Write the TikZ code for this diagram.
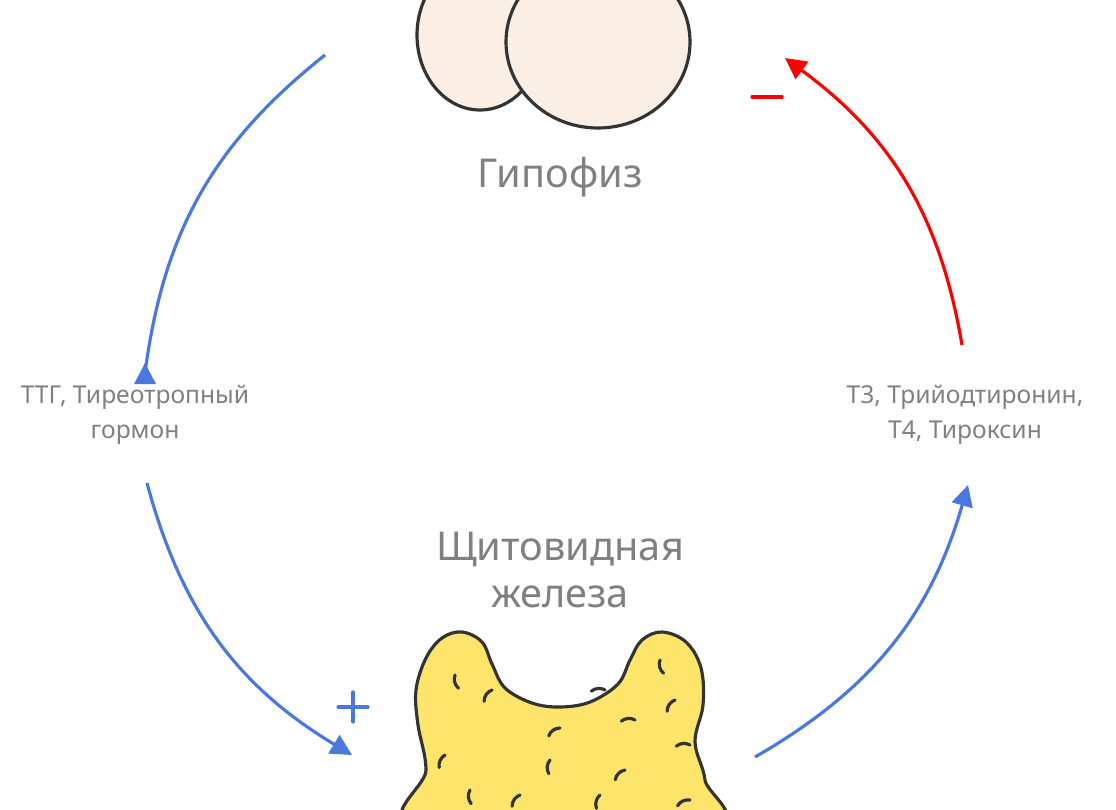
\documentclass[tikz,border=0pt]{standalone}
\usepackage{fontspec}
\setmainfont{Noto Sans}
\usetikzlibrary{arrows.meta,positioning}
\definecolor{hormblue}{HTML}{4A78E0}
\definecolor{txtgray}{HTML}{808080}
\definecolor{glandyellow}{HTML}{FDE56C}
\definecolor{pitpink}{HTML}{FAEEE5}
\definecolor{outline}{HTML}{333333}
\tikzset{
  organ/.style={font=\fontsize{11.3}{13.5}\selectfont,text=txtgray,align=center},
  hormone/.style={font=\fontsize{7}{10}\selectfont,text=txtgray,align=center},
  flow/.style={hormblue,line width=0.9pt,-{Triangle[length=6pt,width=6pt]}},
  feedback/.style={red,line width=0.9pt,-{Triangle[length=6pt,width=6pt]}},
  sign/.style={line width=0.9pt,line cap=round}
}
\begin{document}
\begin{tikzpicture}[x=0.01cm,y=-0.01cm]
\useasboundingbox (0,0) rectangle (1116,809);
\clip (0,0) rectangle (1116,809);

% pituitary
\draw[fill=pitpink,draw=outline,line width=0.9pt] (480,35) ellipse [x radius=63,y radius=75];
\draw[fill=pitpink,draw=outline,line width=0.9pt] (598,42) ellipse [x radius=92,y radius=86];

% thyroid
\draw[fill=glandyellow,draw=outline,line width=0.9pt] plot[smooth cycle,tension=0.6] coordinates {
  (420,830) (426,770) (418,725) (416,690) (426,658) (442,638) (462,632) (482,642)
  (492,664) (505,688) (532,703) (560,707) (590,702) (618,684) (630,660) (642,640)
  (662,632) (686,642) (701,668) (703,705) (695,742) (705,780) (706,830)};
\foreach \x/\y/\a in {455/675/200,492/690/250,605/690/300,660/660/200,675/700/250,
  445/755/240,560/728/270,635/720/300,550/760/220,625/770/260,690/745/300,470/790/210,
  520/795/250,600/795/230,690/800/280}
  \draw[outline,line width=0.9pt,line cap=round] (\x,\y) arc[start angle=\a,delta angle=-70,radius=12];

% labels
\node[organ] (pit) at (560,177) {Гипофиз};
\node[organ] (thy) at (560,570) {Щитовидная\\железа};
\node[hormone] (tsh) at (135,415) {ТТГ, Тиреотропный\\гормон};
\node[hormone] (t34) at (965,415) {Т3, Трийодтиронин,\\Т4, Тироксин};

\coordinate (pitout) at (325,55);
\coordinate (pitin) at (785,58);
\coordinate (thyin) at (352,755);
\coordinate (thyout) at (755,757);

\draw[flow] (pitout) to[bend right=22] (tsh.north -| 145,0) ++(0,-10);
\draw[flow] (147,483) to[bend right=22] (thyin);
\draw[flow] (thyout) to[bend right=22] (968,485);
\draw[feedback] (962,345) to[bend right=22] (pitin);

\draw[sign,hormblue] (338,707) -- (368,707) (353,692) -- (353,722);
\draw[sign,red] (752,97) -- (782,97);
\end{tikzpicture}
\end{document}
